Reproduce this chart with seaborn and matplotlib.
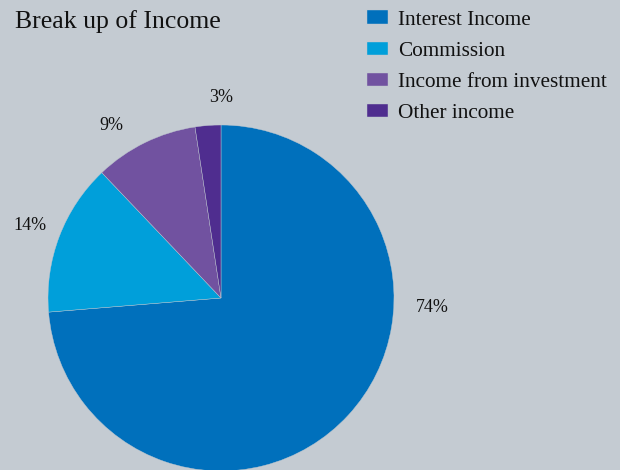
import matplotlib
matplotlib.use("Agg")
import numpy as np
import matplotlib.pyplot as plt
import seaborn as sns

categories = ["Interest Income", "Commission", "Income from investment", "Other income"]
values = [73.7, 14.2, 9.7, 2.4]
pct_labels = ["74%", "14%", "9%", "3%"]
colors = ["#0070bc", "#009fda", "#7152a0", "#4f2d8f"]
bg = "#c4cbd2"

# label placement (style): polar angle in degrees and radius multiple
label_angles = [-2.7, 159.3, 122.4, 90.0]
label_radii = [1.22, 1.18, 1.18, 1.16]

sns.set_theme(style="white", rc={"figure.facecolor": bg, "axes.facecolor": bg})
plt.rcParams["font.family"] = ["Liberation Serif", "DejaVu Serif"]

fig = plt.figure(figsize=(6.2, 4.7), dpi=100)
ax = fig.add_axes([48 / 620, -1 / 470, 346 / 620, 346 / 470])
ax.set_facecolor(bg)

wedges, texts = ax.pie(
    values,
    labels=pct_labels,
    colors=sns.color_palette(colors),
    startangle=90,
    counterclock=False,
    labeldistance=1.19,
    radius=1.0,
    wedgeprops=dict(linewidth=0.3, edgecolor="#c0c8d0"),
    textprops=dict(fontsize=13, color="#111111"),
)
for t, a, r in zip(texts, label_angles, label_radii):
    t.set_position((r * np.cos(np.radians(a)), r * np.sin(np.radians(a))))
    t.set_ha("center")
    t.set_va("center")
ax.set_xlim(-1, 1)
ax.set_ylim(-1, 1)
ax.set_aspect("equal")
ax.axis("off")

fig.text(15 / 620, 1 - 22 / 470, "Break up of Income", fontsize=18.5,
         color="#111111", ha="left", va="center")

leg = fig.legend(
    wedges, categories,
    loc="upper left", bbox_to_anchor=(358 / 620, 1 - 2 / 470),
    frameon=False, fontsize=15.3,
    handlelength=1.0, handleheight=0.6, handletextpad=0.48,
    labelspacing=0.56, borderaxespad=0.0, borderpad=0.4,
)
for txt in leg.get_texts():
    txt.set_color("#111111")

fig.savefig("out.png", dpi=100, facecolor=bg)
